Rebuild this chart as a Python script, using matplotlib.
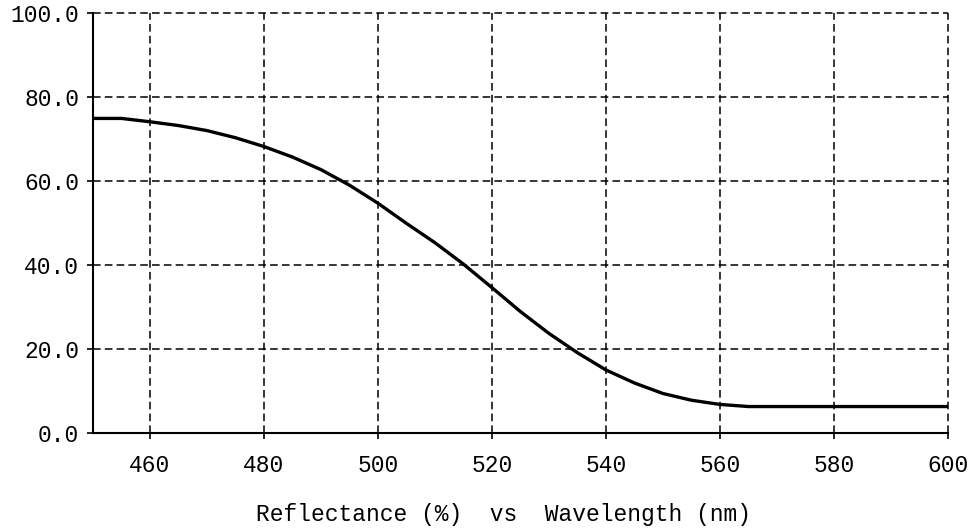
import matplotlib
matplotlib.use("Agg")
import matplotlib.pyplot as plt

# Data
wavelength = [450, 455, 460, 465, 470, 475, 480, 485, 490, 495, 500, 505, 510,
              515, 520, 525, 530, 535, 540, 545, 550, 555, 560, 565, 570, 575,
              580, 585, 590, 595, 600]
reflectance = [74.9, 74.9, 74.1, 73.2, 72.0, 70.3, 68.2, 65.7, 62.7, 59.0, 54.7,
               49.9, 45.3, 40.2, 34.6, 28.9, 23.7, 19.1, 15.0, 11.9, 9.4, 7.8,
               6.8, 6.3, 6.3, 6.3, 6.3, 6.3, 6.3, 6.3, 6.3]
x_ticks = [460, 480, 500, 520, 540, 560, 580, 600]
y_ticks = [0, 20, 40, 60, 80, 100]
title_text = "Reflectance (%)  vs  Wavelength (nm)"

plt.rcParams['font.family'] = ['Liberation Mono', 'DejaVu Sans Mono']
plt.rcParams['lines.scale_dashes'] = False

W, H = 973, 529
fig = plt.figure(figsize=(W / 100, H / 100), dpi=100)
ax = fig.add_axes([93 / W, (H - 433) / H, 855 / W, 420 / H])

ax.plot(wavelength, reflectance, color='black', lw=2.4, solid_joinstyle='round',
        zorder=3)

ax.set_xlim(450, 600)
ax.set_ylim(0, 100)
ax.set_xticks(x_ticks)
ax.set_yticks(y_ticks)
ax.set_xticklabels([str(t) for t in x_ticks])
ax.set_yticklabels([f"{t:.1f}" for t in y_ticks])

ax.grid(True, color='black', lw=1.1, linestyle=(0, (5.5, 3.0)))
for gl in ax.get_xgridlines() + ax.get_ygridlines():
    gl.set_clip_on(False)

for s in ['top', 'right']:
    ax.spines[s].set_visible(False)
for s in ['left', 'bottom']:
    ax.spines[s].set_linewidth(1.5)
    ax.spines[s].set_color('black')

ax.tick_params(axis='both', direction='out', length=4, width=1.2, colors='black',
               labelsize=16.5)
ax.tick_params(axis='x', pad=11)
ax.tick_params(axis='y', pad=6)

ax.set_xlabel(title_text, fontsize=16.5, color='black', va='center')
ax.xaxis.set_label_coords((503 - 93) / 855, -(515 - 433) / 420)

fig.savefig("out.png", dpi=100)
